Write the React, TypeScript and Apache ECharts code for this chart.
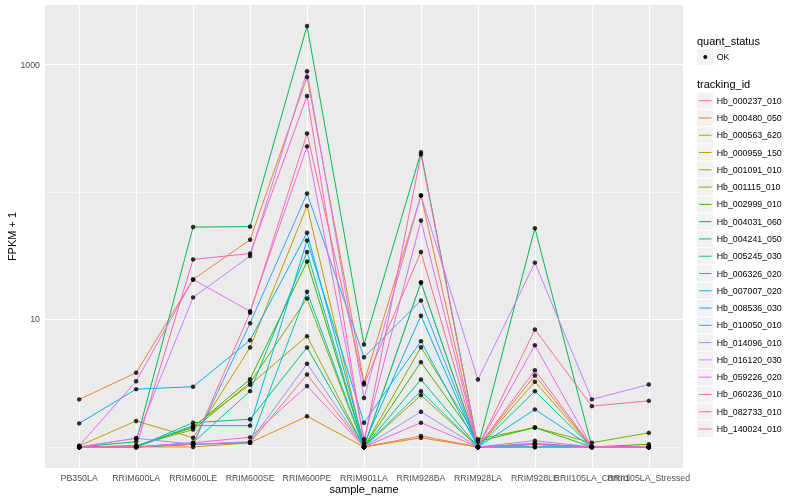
import React, { useEffect, useRef } from 'react';
import * as echarts from 'echarts';

const sampleNames = [
  'PB350LA', 'RRIM600LA', 'RRIM600LE', 'RRIM600SE', 'RRIM600PE', 'RRIM901LA',
  'RRIM928BA', 'RRIM928LA', 'RRIM928LE', 'RRII105LA_Control', 'RRII105LA_Stressed',
];

const trackingIds = [
  'Hb_000237_010', 'Hb_000480_050', 'Hb_000563_620', 'Hb_000959_150', 'Hb_001091_010',
  'Hb_001115_010', 'Hb_002999_010', 'Hb_004031_060', 'Hb_004241_050', 'Hb_005245_030',
  'Hb_006326_020', 'Hb_007007_020', 'Hb_008536_030', 'Hb_010050_010', 'Hb_014096_010',
  'Hb_016120_030', 'Hb_059226_020', 'Hb_060236_010', 'Hb_082733_010', 'Hb_140024_010',
];

const hueColors = [
  '#F8766D', '#EA8331', '#D89000', '#C09B00', '#A3A500', '#7CAE00', '#39B600', '#00BB4E',
  '#00BF7D', '#00C1A3', '#00BFC4', '#00BAE0', '#00B0F6', '#35A2FF', '#9590FF', '#C77CFF',
  '#E76BF3', '#FA62DB', '#FF62BC', '#FF6C91',
];

const quantStatus = ['OK'];
const yMajorTicks = [10, 1000];
const yMinorTicks = [1, 100];

// FPKM + 1 per sample (order of sampleNames)
const Hb_000237_010 = [1, 1, 1.05, 1.08, 3.7, 1, 1.22, 1, 1.07, 1, 1];
const Hb_000480_050 = [2.36, 3.82, 20.6, 42.2, 798, 3.19, 93.9, 1, 3.64, 1, 1];
const Hb_000563_620 = [1, 1, 1, 1.08, 1.74, 1, 1.18, 1, 1, 1, 1];
const Hb_000959_150 = [1.02, 1.6, 1.18, 6.03, 77.9, 1, 19.5, 1, 3.25, 1, 1];
const Hb_001091_010 = [1, 1, 1.45, 3.08, 7.4, 1, 2.55, 1, 1.05, 1, 1];
const Hb_001115_010 = [1, 1.02, 1.37, 3.2, 14.6, 1, 6.06, 1.15, 1.42, 1.08, 1.29];
const Hb_002999_010 = [1, 1.02, 1.42, 3.4, 28.5, 1, 4.63, 1.1, 1.42, 1, 1.05];
const Hb_004031_060 = [1, 1.1, 53.1, 53.5, 2004, 6.37, 205, 1, 52.0, 1, 1];
const Hb_004241_050 = [1, 1, 1.55, 1.65, 6.03, 1, 3.38, 1, 1.05, 1, 1];
const Hb_005245_030 = [1, 1, 1.08, 2.74, 33.8, 1, 19.5, 1, 2.74, 1, 1];
const Hb_006326_020 = [1, 1, 1.05, 1.08, 16.5, 1, 2.74, 1, 1, 1, 1];
const Hb_007007_020 = [1, 1, 1.47, 1.47, 41.7, 1.55, 6.76, 1, 1.05, 1, 1];
const Hb_008536_030 = [1.53, 2.84, 2.97, 6.88, 47.9, 1.05, 10.7, 1, 1.97, 1, 1];
const Hb_010050_010 = [1, 1, 1.05, 9.35, 97.3, 5.06, 14.1, 1, 1, 1, 1];
const Hb_014096_010 = [1, 1.17, 1.05, 1.1, 4.49, 1, 1.89, 1, 1.12, 1, 1];
const Hb_016120_030 = [1, 1.17, 14.9, 31.4, 886, 2.42, 93.9, 3.38, 27.9, 2.36, 3.09];
const Hb_059226_020 = [1.02, 3.28, 20.6, 11.6, 228, 1.15, 59.7, 1, 6.28, 1, 1];
const Hb_060236_010 = [1, 1, 1.08, 1.19, 3.01, 1, 1.55, 1, 1.05, 1, 1];
const Hb_082733_010 = [1, 1, 29.6, 32.9, 566, 1.08, 197, 1, 4.0, 1, 1];
const Hb_140024_010 = [1, 1, 1.05, 11.3, 288, 3.09, 33.8, 1, 8.35, 2.09, 2.3];

const seriesValues = [
  Hb_000237_010, Hb_000480_050, Hb_000563_620, Hb_000959_150, Hb_001091_010,
  Hb_001115_010, Hb_002999_010, Hb_004031_060, Hb_004241_050, Hb_005245_030,
  Hb_006326_020, Hb_007007_020, Hb_008536_030, Hb_010050_010, Hb_014096_010,
  Hb_016120_030, Hb_059226_020, Hb_060236_010, Hb_082733_010, Hb_140024_010,
];

const FONT = '"Liberation Sans", Arial, Helvetica, sans-serif';

export default function App() {
  const ref = useRef<HTMLDivElement>(null);

  useEffect(() => {
    if (!ref.current) return;
    const chart = echarts.init(ref.current, null, { renderer: 'svg' });

    const logs = seriesValues.flat().map((v) => Math.log10(v));
    const lo = Math.min(...logs);
    const hi = Math.max(...logs);
    const pad = (hi - lo) * 0.05;
    const xs = sampleNames.map((_, i) => i);

    // panel geometry (ggplot discrete axis: 0.6 category expansion on each side)
    const panelLeft = 45;
    const panelRight = 117;
    const panelW = 800 - panelLeft - panelRight;
    const catW = panelW / (sampleNames.length - 1 + 1.2);
    const labelInset = catW * 0.1;

    const gridLines: any[] = [
      ...yMinorTicks.map((v) => ({ yAxis: Math.log10(v), lineStyle: { width: 0.55 } })),
      ...yMajorTicks.map((v) => ({ yAxis: Math.log10(v), lineStyle: { width: 1.1 } })),
      ...xs.map((i) => ({ xAxis: i, lineStyle: { width: 1.1 } })),
    ];

    const lineSeries = trackingIds.map((id, k) => ({
      name: id,
      type: 'line',
      xAxisIndex: 0,
      yAxisIndex: 0,
      data: seriesValues[k].map((v, i) => [i, Math.log10(v)]),
      symbol: 'none',
      showSymbol: false,
      lineStyle: { color: hueColors[k], width: 1 },
      itemStyle: { color: hueColors[k] },
      emphasis: { disabled: true },
      silent: true,
      z: 3,
    }));

    const points = seriesValues.flatMap((arr) => arr.map((v, i) => [i, Math.log10(v)]));

    // legend drawn as graphic elements (ggplot style)
    const lx = 697;
    const keyW = 16;
    const pitch = 17.28;
    const graphic: any[] = [];
    graphic.push({
      type: 'text',
      style: { text: 'quant_status', x: lx, y: 40.7, font: `11px ${FONT}`, fill: '#000', textVerticalAlign: 'middle', textAlign: 'left' },
    });
    quantStatus.forEach((q, i) => {
      const cy = 57 + i * pitch;
      graphic.push({ type: 'rect', shape: { x: lx, y: cy - 8.1, width: keyW, height: 16.2 }, style: { fill: '#F2F2F2' } });
      graphic.push({ type: 'circle', shape: { cx: lx + 8.3, cy, r: 2 }, style: { fill: '#000' } });
      graphic.push({
        type: 'text',
        style: { text: q, x: 716.7, y: cy, font: `8.8px ${FONT}`, fill: '#000', textVerticalAlign: 'middle', textAlign: 'left' },
      });
    });
    graphic.push({
      type: 'text',
      style: { text: 'tracking_id', x: lx, y: 84.3, font: `11px ${FONT}`, fill: '#000', textVerticalAlign: 'middle', textAlign: 'left' },
    });
    trackingIds.forEach((id, i) => {
      const cy = 100.7 + i * pitch;
      graphic.push({ type: 'rect', shape: { x: lx, y: cy - 8.1, width: keyW, height: 16.2 }, style: { fill: '#F2F2F2' } });
      graphic.push({
        type: 'line',
        shape: { x1: lx + 2, y1: cy, x2: lx + 14.5, y2: cy },
        style: { stroke: hueColors[i], lineWidth: 1 },
      });
      graphic.push({
        type: 'text',
        style: { text: id, x: 716.7, y: cy, font: `8.8px ${FONT}`, fill: '#000', textVerticalAlign: 'middle', textAlign: 'left' },
      });
    });

    const option: any = {
      animation: false,
      grid: [
        {
          left: panelLeft,
          right: panelRight,
          top: 5,
          bottom: 32,
          show: true,
          backgroundColor: '#EBEBEB',
          borderWidth: 0,
          containLabel: false,
          outerBoundsMode: 'none',
        },
        {
          left: panelLeft + labelInset,
          right: panelRight + labelInset,
          top: 5,
          bottom: 32,
          show: false,
          containLabel: false,
          outerBoundsMode: 'none',
        },
      ],
      xAxis: [
        {
          type: 'value',
          gridIndex: 0,
          min: -0.6,
          max: sampleNames.length - 1 + 0.6,
          axisLine: { show: false },
          splitLine: { show: false },
          axisTick: { show: true, customValues: xs, length: 2.75, lineStyle: { color: '#333333', width: 1.07 } },
          axisLabel: { show: false },
          name: 'sample_name',
          nameLocation: 'middle',
          nameGap: 15,
          nameMoveOverlap: false,
          nameTextStyle: { fontSize: 11, color: '#000', fontFamily: FONT },
        },
        {
          type: 'category',
          gridIndex: 1,
          data: sampleNames,
          boundaryGap: true,
          axisLine: { show: false },
          axisTick: { show: false },
          splitLine: { show: false },
          axisLabel: {
            interval: 0,
            color: '#4D4D4D',
            fontSize: 8.8,
            fontFamily: FONT,
            margin: 5,
            hideOverlap: false,
          },
        },
      ],
      yAxis: [
        {
          type: 'value',
          gridIndex: 0,
          min: lo - pad,
          max: hi + pad,
          axisLine: { show: false },
          splitLine: { show: false },
          axisTick: { show: true, customValues: yMajorTicks.map((v) => Math.log10(v)), length: 2.75, lineStyle: { color: '#333333', width: 1.07 } },
          axisLabel: {
            customValues: yMajorTicks.map((v) => Math.log10(v)),
            formatter: (v: number) => String(Math.round(Math.pow(10, v))),
            color: '#4D4D4D',
            fontSize: 8.8,
            fontFamily: FONT,
            margin: 5,
            showMinLabel: true,
            showMaxLabel: true,
          },
          name: 'FPKM + 1',
          nameLocation: 'middle',
          nameGap: 28,
          nameRotate: 90,
          nameMoveOverlap: false,
          nameTextStyle: { fontSize: 11, color: '#000', fontFamily: FONT },
        },
        {
          type: 'value',
          gridIndex: 1,
          show: false,
        },
      ],
      graphic,
      series: [
        {
          type: 'line',
          xAxisIndex: 0,
          yAxisIndex: 0,
          data: [],
          silent: true,
          z: 1,
          markLine: {
            silent: true,
            symbol: 'none',
            z: 1,
            label: { show: false },
            lineStyle: { color: '#FFFFFF', type: 'solid' },
            emphasis: { disabled: true },
            data: gridLines,
          },
        },
        ...lineSeries,
        {
          name: 'quant_status',
          type: 'scatter',
          xAxisIndex: 0,
          yAxisIndex: 0,
          data: points,
          symbol: 'circle',
          symbolSize: 4.5,
          itemStyle: { color: '#000000' },
          silent: true,
          z: 5,
        },
      ],
    };

    chart.setOption(option);
    return () => chart.dispose();
  }, []);

  return <div ref={ref} style={{ position: 'fixed', left: 0, top: 0, width: 800, height: 500 }} />;
}
